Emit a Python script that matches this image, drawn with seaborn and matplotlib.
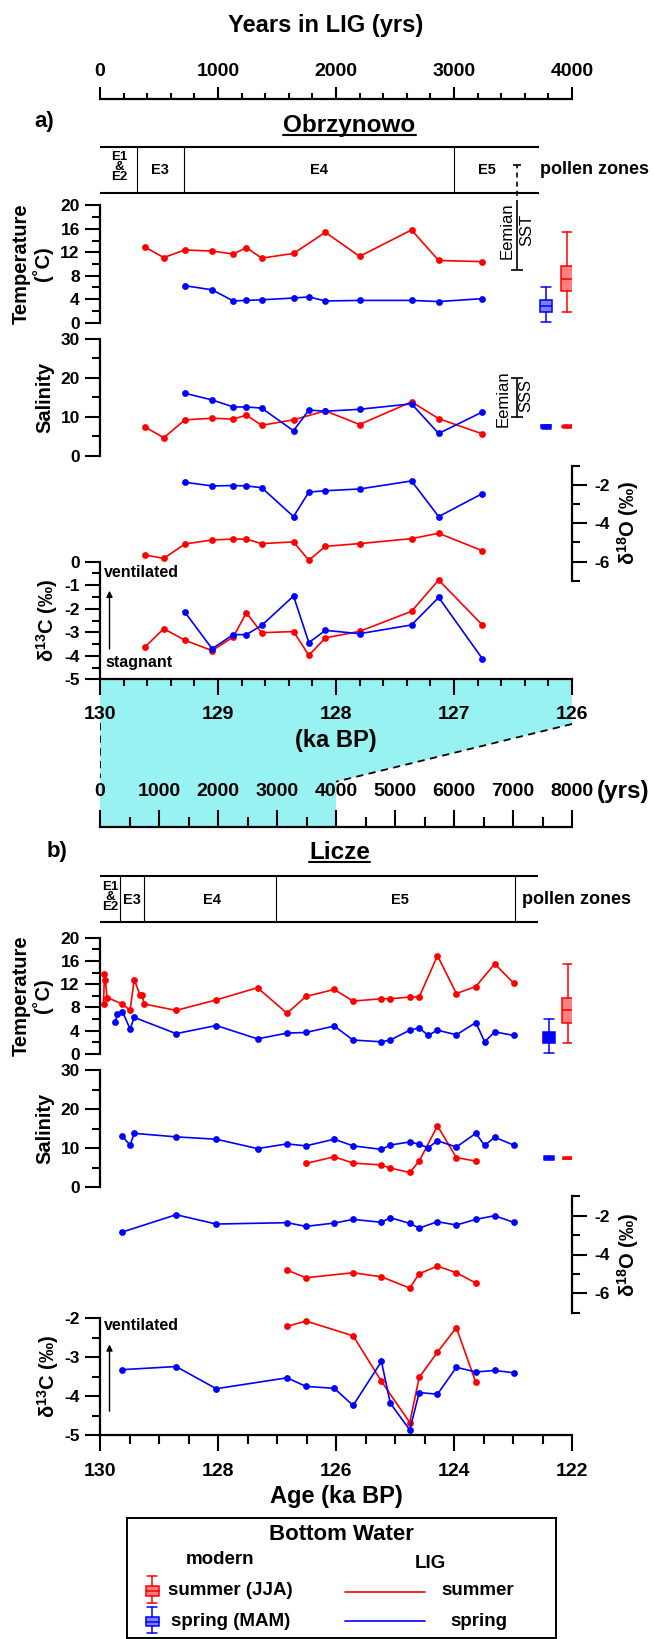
import matplotlib
matplotlib.use("Agg")
import matplotlib.pyplot as plt
import seaborn as sns
from matplotlib.ticker import MultipleLocator, FormatStrFormatter
from matplotlib.patches import Polygon, Rectangle, FancyArrowPatch
from matplotlib.lines import Line2D

# ---------------------------------------------------------------- data
# Panel a) Obrzynowo  (age in ka BP)
a_age_sum = [129.62, 129.46, 129.28, 129.05, 128.87, 128.76, 128.63, 128.36, 128.09, 127.80, 127.36, 127.13, 126.76]
a_age_spr = [129.28, 129.05, 128.87, 128.76, 128.63, 128.36, 128.23, 128.09, 127.80, 127.36, 127.13, 126.76]
a_age_iso_sum = [129.62, 129.46, 129.28, 129.05, 128.87, 128.76, 128.63, 128.36, 128.23, 128.09, 127.80, 127.36, 127.13, 126.76]

a_temp_sum = [12.9, 11.1, 12.4, 12.2, 11.7, 12.8, 11.0, 11.8, 15.4, 11.3, 15.8, 10.6, 10.4]
a_temp_spr = [6.3, 5.6, 3.7, 3.8, 3.9, 4.2, 4.4, 3.7, 3.8, 3.8, 3.6, 4.1]
a_sal_sum = [7.4, 4.6, 9.2, 9.6, 9.4, 10.4, 7.8, 9.2, 11.5, 8.0, 13.8, 9.5, 5.6]
a_sal_spr = [16.0, 14.3, 12.5, 12.5, 12.2, 6.4, 11.7, 11.4, 11.9, 13.3, 5.7, 11.2]
a_d18o_sum = [-5.65, -5.83, -5.08, -4.87, -4.82, -4.83, -5.06, -4.97, -5.93, -5.20, -5.06, -4.80, -4.52, -5.43]
a_d18o_spr = [-1.86, -2.05, -2.03, -2.05, -2.14, -3.65, -2.37, -2.30, -2.21, -1.79, -3.65, -2.45]
a_d13c_sum = [-3.63, -2.85, -3.34, -3.78, -3.20, -2.17, -3.02, -2.97, -3.98, -3.24, -2.96, -2.11, -0.78, -2.69]
a_d13c_spr = [-2.15, -3.70, -3.10, -3.10, -2.71, -1.46, -3.44, -2.92, -3.06, -2.69, -1.52, -4.12]

# Panel b) Licze  (age in ka BP)
b_age_temp_sum = [129.94, 129.925, 129.91, 129.88, 129.62, 129.49, 129.42, 129.32, 129.29, 129.25, 128.71, 128.03,
                  127.33, 126.83, 126.51, 126.03, 125.71, 125.23, 125.08, 124.75, 124.59, 124.28, 123.96, 123.63,
                  123.31, 122.99]
b_temp_sum = [8.6, 13.7, 12.8, 9.7, 8.6, 7.5, 12.8, 10.1, 10.1, 8.6, 7.5, 9.3, 11.4, 7.0, 9.9, 11.1, 9.1, 9.5, 9.5,
              9.8, 9.8, 16.9, 10.4, 11.6, 15.5, 12.2]
b_age_temp_spr = [129.74, 129.71, 129.62, 129.49, 129.42, 128.71, 128.03, 127.33, 126.83, 126.51, 126.03, 125.71,
                  125.23, 125.08, 124.75, 124.59, 124.44, 124.28, 123.96, 123.63, 123.48, 123.31, 122.99]
b_temp_spr = [5.5, 6.8, 7.3, 4.3, 6.3, 3.5, 4.9, 2.6, 3.6, 3.7, 4.8, 2.4, 2.1, 2.4, 4.1, 4.5, 3.2, 4.1, 3.3, 5.4,
              2.1, 3.8, 3.2]
b_age_sal_spr = [129.62, 129.49, 129.42, 128.71, 128.03, 127.33, 126.83, 126.51, 126.03, 125.71, 125.23, 125.08,
                 124.75, 124.59, 124.44, 124.28, 123.96, 123.63, 123.48, 123.31, 122.99]
b_sal_spr = [13.0, 10.8, 13.8, 12.9, 12.3, 9.9, 11.1, 10.6, 12.3, 10.6, 9.7, 10.8, 11.6, 11.0, 10.1, 11.9, 10.3,
             13.8, 10.7, 12.8, 10.8]
b_age_sal_sum = [126.51, 126.03, 125.71, 125.23, 125.08, 124.75, 124.59, 124.28, 123.96, 123.63]
b_sal_sum = [6.1, 7.8, 6.2, 5.7, 4.9, 3.8, 6.7, 15.7, 7.6, 6.7]
b_age_iso_spr = [129.62, 128.71, 128.03, 126.83, 126.51, 126.03, 125.71, 125.23, 125.08, 124.75, 124.59, 124.28,
                 123.96, 123.63, 123.31, 122.99]
b_d18o_spr = [-2.84, -1.95, -2.43, -2.36, -2.55, -2.38, -2.19, -2.34, -2.10, -2.40, -2.64, -2.31, -2.48, -2.19,
              -2.00, -2.34]
b_d13c_spr = [-3.32, -3.24, -3.81, -3.53, -3.75, -3.80, -4.24, -3.11, -4.18, -4.87, -3.91, -3.95, -3.26, -3.38,
              -3.34, -3.40]
b_age_iso_sum = [126.83, 126.51, 125.71, 125.23, 124.75, 124.59, 124.28, 123.96, 123.63]
b_d18o_sum = [-4.80, -5.20, -4.94, -5.15, -5.73, -4.99, -4.60, -4.94, -5.47]
b_d13c_sum = [-2.21, -2.07, -2.45, -3.62, -4.68, -3.52, -2.87, -2.24, -3.65]

# pollen zones
a_zone_bounds = [129.69, 129.29, 127.00]
a_zone_end = 126.28
a_zone_labels = ["E1\n&\nE2", "E3", "E4", "E5"]
a_zone_label_x = [129.84, 129.49, 128.14, 126.72]
b_zone_bounds = [129.66, 129.25, 127.01, 122.97]
b_zone_end = 122.58
b_zone_labels = ["E1\n&\nE2", "E3", "E4", "E5"]
b_zone_label_x = [129.82, 129.46, 128.10, 124.92]

# Eemian ranges (panel a)
eemian_x = 126.47
eemian_sst = [9.0, 20.0]
eemian_sst_dashed_top = 26.9
eemian_sss = [10.0, 20.0]

# modern bottom-water box statistics
mod_temp_sum = dict(whislo=1.9, q1=5.4, med=7.5, q3=9.6, whishi=15.4)
mod_temp_spr = dict(whislo=0.2, q1=1.9, med=2.9, q3=3.8, whishi=6.0)
mod_sal_sum = dict(whislo=7.15, q1=7.3, med=7.45, q3=7.6, whishi=7.75)
mod_sal_spr = dict(whislo=6.9, q1=7.15, med=7.45, q3=7.75, whishi=8.0)
a_box_x = [126.22, 126.04]   # spring, summer
b_box_x = [122.39, 122.07]

RED, BLUE = "#FF0000", "#0000FF"
TEAL = "#99F2F2"

# ---------------------------------------------------------------- style
sns.set_theme(style="ticks")
plt.rcParams.update({
    "font.family": ["Liberation Sans", "DejaVu Sans"],
    "font.weight": "bold",
    "text.color": "black", "axes.labelcolor": "black",
    "xtick.color": "black", "ytick.color": "black", "axes.edgecolor": "black",
    "axes.unicode_minus": False,
    "mathtext.fontset": "custom",
    "mathtext.rm": "Liberation Sans:bold",
    "mathtext.it": "Liberation Sans:italic:bold",
    "mathtext.bf": "Liberation Sans:bold",
    "mathtext.default": "rm",
    "axes.labelweight": "bold",
})

W, H = 654, 1639
fig = plt.figure(figsize=(W / 100, H / 100), dpi=100)

TICK = 12.5     # panel tick label size
ALAB = 14.5     # panel axis label size


def base_ax(x0, y0, x1, y1):
    ax = fig.add_axes([x0 / W, 1 - y1 / H, (x1 - x0) / W, (y1 - y0) / H])
    ax.set_facecolor("none")
    for s in ax.spines.values():
        s.set_visible(False)
        s.set_linewidth(1.6)
        s.set_color("black")
    ax.tick_params(which="both", bottom=False, top=False, left=False, right=False,
                   labelbottom=False, labeltop=False, labelleft=False, labelright=False)
    ax.grid(False)
    return ax


def y_axis(ax, lo, hi, major, minor, side="left"):
    ax.set_ylim(lo, hi)
    ax.spines[side].set_visible(True)
    ax.yaxis.set_major_locator(MultipleLocator(major))
    ax.yaxis.set_minor_locator(MultipleLocator(minor))
    ax.yaxis.set_major_formatter(FormatStrFormatter("%d"))
    if side == "left":
        ax.tick_params(axis="y", which="both", left=True, labelleft=True, direction="out", width=1.5)
    else:
        ax.yaxis.set_ticks_position("right")
        ax.tick_params(axis="y", which="both", right=True, labelright=True, left=False,
                       labelleft=False, direction="out", width=1.5)
    ax.tick_params(axis="y", which="major", length=11, labelsize=TICK, pad=3.5)
    ax.tick_params(axis="y", which="minor", length=5.5)


def series(ax, x, y, color):
    sns.lineplot(x=x, y=y, ax=ax, color=color, marker="o", markersize=4.9, markeredgewidth=0,
                 linewidth=1.2, sort=False, estimator=None, legend=False)


def boxes(ax, stats, xs, width, faces, edges):
    for st, x, fc, ec in zip(stats, xs, faces, edges):
        s = dict(st)
        s["fliers"] = []
        ax.bxp([s], positions=[x], widths=width, patch_artist=True, showfliers=False,
               manage_ticks=False, capwidths=width * 0.85,
               boxprops=dict(facecolor=fc, edgecolor=ec, linewidth=1.1),
               whiskerprops=dict(color=ec, linewidth=1.1),
               capprops=dict(color=ec, linewidth=1.1),
               medianprops=dict(color=ec, linewidth=1.1))


def T(x, y, s, **kw):
    return fig.text(x / W, 1 - y / H, s, **kw)


def pollen(ax, xlim, bounds, end, labels, label_x, ly):
    ax.set_xlim(*xlim)
    ax.set_ylim(0, 1)
    ax.hlines([0, 1], xlim[0], end, color="black", lw=1.5, clip_on=False)
    ax.vlines(bounds, 0, 1, color="black", lw=0.8)
    for lab, x in zip(labels, label_x):
        if "&" in lab:
            ax.text(x, ly + 0.07, lab, ha="center", va="center", fontsize=9.5, linespacing=0.8)
        else:
            ax.text(x, ly, lab, ha="center", va="center", fontsize=10.5)


def arrow(x, y0, y1):
    fig.add_artist(FancyArrowPatch((x / W, 1 - y0 / H), (x / W, 1 - y1 / H), transform=fig.transFigure,
                                   arrowstyle="-|>", mutation_scale=9, lw=1.0, color="black"))


XA = (130, 126)
XB = (130, 122)

# ---------------------------------------------------------------- connector (teal)
ax_conn = base_ax(100, 679.3, 572, 826.7)
ax_conn.set_xlim(0, 8000)
ax_conn.set_ylim(147.4, 0)
ax_conn.add_patch(Polygon([(0, 0), (8000, 0), (8000, 44.7), (4000, 102.4), (4000, 147.4), (0, 147.4)],
                          closed=True, facecolor=TEAL, edgecolor="none"))
ax_conn.plot([0, 0], [43.7, 98.7], color="black", lw=1.3, ls=(0, (4, 3)))
ax_conn.plot([8000, 4000], [44.7, 102.4], color="black", lw=1.3, ls=(0, (4, 3)))

# ---------------------------------------------------------------- panel a
ax_yt = base_ax(100, 99.3, 572, 100.3)
ax_yt.set_xlim(0, 4000)
ax_yt.spines["top"].set_visible(True)
ax_yt.xaxis.set_ticks_position("top")
ax_yt.xaxis.set_major_locator(MultipleLocator(1000))
ax_yt.xaxis.set_minor_locator(MultipleLocator(200))
ax_yt.tick_params(axis="x", which="both", top=True, labeltop=True, bottom=False, labelbottom=False,
                  direction="out", width=1.5)
ax_yt.tick_params(axis="x", which="major", length=8.7, labelsize=14, pad=5.5)
ax_yt.tick_params(axis="x", which="minor", length=4.3)
T(326, 31.7, "Years in LIG (yrs)", ha="center", va="baseline", fontsize=17)

T(44.5, 121.7, "a)", ha="center", va="center", fontsize=16)
t_obr = T(349.4, 131.7, "Obrzynowo", ha="center", va="baseline", fontsize=17.5)

ax_pa = base_ax(100, 147, 572, 193)
pollen(ax_pa, XA, a_zone_bounds, a_zone_end, a_zone_labels, a_zone_label_x, 0.5)
T(540, 170, "pollen zones", ha="left", va="center", fontsize=13)

# temperature a
ax_ta = base_ax(100, 205.3, 572, 322.7)
y_axis(ax_ta, 0, 20, 4, 2)
series(ax_ta, a_age_sum, a_temp_sum, RED)
series(ax_ta, a_age_spr, a_temp_spr, BLUE)
boxes(ax_ta, [mod_temp_spr, mod_temp_sum], a_box_x, 0.1, ["#8080FF", "#FF8080"], [BLUE, RED])
ax_ta.vlines(eemian_x, eemian_sst[0], eemian_sst[1], color="black", lw=1.2)
ax_ta.plot([eemian_x], [eemian_sst[0]], marker="_", color="black", markersize=9, mew=1.2)
ax_ta.vlines(eemian_x, eemian_sst[1], eemian_sst_dashed_top, color="black", lw=1.2,
             linestyles=(0, (3, 2.5)), clip_on=False)
ax_ta.plot([eemian_x], [eemian_sst_dashed_top], marker="_", color="black", markersize=6, mew=1.2,
           clip_on=False)
ax_ta.set_xlim(*XA); ax_ta.set_ylim(0, 20)
T(506.7, 231, "Eemian", rotation=90, ha="center", va="center", fontsize=12, fontweight="normal")
T(526.5, 230, "SST", rotation=90, ha="center", va="center", fontsize=12, fontweight="normal")
T(32.5, 264, "Temperature\n(˚C)", rotation=90, ha="center", va="center", fontsize=ALAB,
  linespacing=1.05, multialignment="center")

# salinity a
ax_sa = base_ax(100, 338.7, 572, 455.7)
y_axis(ax_sa, 0, 30, 10, 5)
series(ax_sa, a_age_sum, a_sal_sum, RED)
series(ax_sa, a_age_spr, a_sal_spr, BLUE)
boxes(ax_sa, [mod_sal_spr, mod_sal_sum], a_box_x, 0.09, [BLUE, RED], [BLUE, RED])
ax_sa.vlines(eemian_x, eemian_sss[0], eemian_sss[1], color="black", lw=1.2)
ax_sa.plot([eemian_x] * 2, eemian_sss, ls="none", marker="_", color="black", markersize=9, mew=1.2)
ax_sa.set_xlim(*XA); ax_sa.set_ylim(0, 30)
T(502.7, 399, "Eemian", rotation=90, ha="center", va="center", fontsize=12, fontweight="normal")
T(526, 395.5, "SSS", rotation=90, ha="center", va="center", fontsize=12, fontweight="normal")
T(45, 397, "Salinity", rotation=90, ha="center", va="center", fontsize=ALAB)

# d18O a (right axis)
ax_oa = base_ax(100, 465.8, 572, 580.8)
y_axis(ax_oa, -7, -1, 2, 1, side="right")
ax_oa.tick_params(axis="y", which="major", pad=5)
series(ax_oa, a_age_iso_sum, a_d18o_sum, RED)
series(ax_oa, a_age_spr, a_d18o_spr, BLUE)
ax_oa.set_xlim(*XA); ax_oa.set_ylim(-7, -1)
T(628, 523, "δ$^{18}$O (‰)", rotation=90, ha="center", va="center", fontsize=ALAB)

# d13C a
ax_ca = base_ax(100, 561.7, 572, 679.3)
y_axis(ax_ca, -5, 0, 1, 0.5)
series(ax_ca, a_age_iso_sum, a_d13c_sum, RED)
series(ax_ca, a_age_spr, a_d13c_spr, BLUE)
ax_ca.set_xlim(*XA); ax_ca.set_ylim(-5, 0)
ax_ca.spines["bottom"].set_visible(True)
ax_ca.xaxis.set_major_locator(MultipleLocator(1))
ax_ca.xaxis.set_minor_locator(MultipleLocator(0.2))
ax_ca.xaxis.set_major_formatter(FormatStrFormatter("%d"))
ax_ca.tick_params(axis="x", which="both", bottom=True, labelbottom=True, direction="out", width=1.5)
ax_ca.tick_params(axis="x", which="major", length=11.3, labelsize=14, pad=8)
ax_ca.tick_params(axis="x", which="minor", length=5.3)
ax_ca.set_ylabel("")
ax_ca.set_xlabel("(ka BP)", fontsize=17, labelpad=4, visible=True)
T(47, 620.5, "δ$^{13}$C (‰)", rotation=90, ha="center", va="center", fontsize=ALAB)
T(104, 572.7, "ventilated", ha="left", va="center", fontsize=11.5)
T(105.5, 662, "stagnant", ha="left", va="center", fontsize=11.5)
arrow(109.5, 651.7, 588)

# bottom years axis
ax_yb = base_ax(100, 826.7, 572, 827.7)
ax_yb.set_xlim(0, 8000)
ax_yb.spines["top"].set_visible(True)
ax_yb.xaxis.set_ticks_position("top")
ax_yb.xaxis.set_major_locator(MultipleLocator(1000))
ax_yb.xaxis.set_minor_locator(MultipleLocator(500))
ax_yb.tick_params(axis="x", which="both", top=True, labeltop=True, bottom=False, labelbottom=False,
                  direction="out", width=1.5)
ax_yb.tick_params(axis="x", which="major", length=12.5, labelsize=14, pad=6.5)
ax_yb.tick_params(axis="x", which="minor", length=7.2)
T(597, 791.7, "(yrs)", ha="left", va="center", fontsize=17.5)

# ---------------------------------------------------------------- panel b
T(57.5, 851.7, "b)", ha="center", va="center", fontsize=16)
t_lic = T(339.4, 859.3, "Licze", ha="center", va="baseline", fontsize=17.5)

ax_pb = base_ax(100, 876, 572, 921.7)
pollen(ax_pb, XB, b_zone_bounds, b_zone_end, b_zone_labels, b_zone_label_x, 0.47)
T(522, 899, "pollen zones", ha="left", va="center", fontsize=13)

ax_tb = base_ax(100, 937.7, 572, 1054)
y_axis(ax_tb, 0, 20, 4, 2)
series(ax_tb, b_age_temp_sum, b_temp_sum, RED)
series(ax_tb, b_age_temp_spr, b_temp_spr, BLUE)
boxes(ax_tb, [mod_temp_spr, mod_temp_sum], b_box_x, 0.2, [BLUE, "#FF8080"], [BLUE, RED])
ax_tb.set_xlim(*XB); ax_tb.set_ylim(0, 20)
T(32.5, 995.9, "Temperature\n(˚C)", rotation=90, ha="center", va="center", fontsize=ALAB,
  linespacing=1.05, multialignment="center")

ax_sb = base_ax(100, 1070, 572, 1187.3)
y_axis(ax_sb, 0, 30, 10, 5)
series(ax_sb, b_age_sal_sum, b_sal_sum, RED)
series(ax_sb, b_age_sal_spr, b_sal_spr, BLUE)
boxes(ax_sb, [mod_sal_spr, mod_sal_sum], b_box_x, 0.18, [BLUE, RED], [BLUE, RED])
ax_sb.set_xlim(*XB); ax_sb.set_ylim(0, 30)
T(45, 1128.7, "Salinity", rotation=90, ha="center", va="center", fontsize=ALAB)

ax_ob = base_ax(100, 1196.3, 572, 1312.7)
y_axis(ax_ob, -7, -1, 2, 1, side="right")
ax_ob.tick_params(axis="y", which="major", pad=5)
series(ax_ob, b_age_iso_sum, b_d18o_sum, RED)
series(ax_ob, b_age_iso_spr, b_d18o_spr, BLUE)
ax_ob.set_xlim(*XB); ax_ob.set_ylim(-7, -1)
T(628, 1254.5, "δ$^{18}$O (‰)", rotation=90, ha="center", va="center", fontsize=ALAB)

ax_cb = base_ax(100, 1318.3, 572, 1435)
y_axis(ax_cb, -5, -2, 1, 0.5)
series(ax_cb, b_age_iso_sum, b_d13c_sum, RED)
series(ax_cb, b_age_iso_spr, b_d13c_spr, BLUE)
ax_cb.set_xlim(*XB); ax_cb.set_ylim(-5, -2)
ax_cb.spines["bottom"].set_visible(True)
ax_cb.xaxis.set_major_locator(MultipleLocator(2))
ax_cb.xaxis.set_minor_locator(MultipleLocator(0.5))
ax_cb.xaxis.set_major_formatter(FormatStrFormatter("%d"))
ax_cb.tick_params(axis="x", which="both", bottom=True, labelbottom=True, direction="out", width=1.5)
ax_cb.tick_params(axis="x", which="major", length=11.5, labelsize=14, pad=8.5)
ax_cb.tick_params(axis="x", which="minor", length=6.5)
ax_cb.set_ylabel("")
ax_cb.set_xlabel("Age (ka BP)", fontsize=17, labelpad=4, visible=True)
T(48, 1376.7, "δ$^{13}$C (‰)", rotation=90, ha="center", va="center", fontsize=ALAB)
T(104, 1325, "ventilated", ha="left", va="center", fontsize=11.5)
arrow(109.5, 1414, 1341.7)

# hide any seaborn default y labels
for a in [ax_ta, ax_sa, ax_oa, ax_tb, ax_sb, ax_ob]:
    a.set_xlabel(""); a.set_ylabel("")

# ---------------------------------------------------------------- legend
ax_leg = fig.add_axes([127.3 / W, 1 - 1637.5 / H, (555.6 - 127.3) / W, (1637.5 - 1518.3) / H])
ax_leg.set_xlim(127.3, 555.6)
ax_leg.set_ylim(1637.5, 1518.3)
ax_leg.set_xticks([]); ax_leg.set_yticks([])
ax_leg.set_facecolor("white")
for s in ax_leg.spines.values():
    s.set_visible(True); s.set_linewidth(1.4); s.set_color("black")
ax_leg.text(341.6, 1534, "Bottom Water", ha="center", va="center", fontsize=16)
ax_leg.text(220, 1560, "modern", ha="center", va="center", fontsize=13.5)
ax_leg.text(430, 1563, "LIG", ha="center", va="center", fontsize=13.5)


def icon(x, top, bot, b0, b1, med, ec, fc):
    ax_leg.plot([x, x], [top, b0], color=ec, lw=1.1)
    ax_leg.plot([x, x], [b1, bot], color=ec, lw=1.1)
    ax_leg.plot([x - 5, x + 5], [top, top], color=ec, lw=1.1)
    ax_leg.plot([x - 5, x + 5], [bot, bot], color=ec, lw=1.1)
    ax_leg.add_patch(Rectangle((x - 6.3, b0), 12.6, b1 - b0, facecolor=fc, edgecolor=ec, lw=1.1))
    ax_leg.plot([x - 6.3, x + 6.3], [med, med], color=ec, lw=1.1)


icon(152.3, 1575.7, 1602.7, 1585.7, 1595.7, 1590.7, RED, "#FF8080")
icon(152.3, 1607.3, 1633.3, 1617.3, 1626.0, 1621.7, BLUE, "#8080FF")
ax_leg.text(168.3, 1590.7, "summer (JJA)", ha="left", va="center", fontsize=13.5)
ax_leg.text(170.7, 1621.7, "spring (MAM)", ha="left", va="center", fontsize=13.5)
ax_leg.plot([345, 425.4], [1591.7, 1591.7], color=RED, lw=1.2)
ax_leg.plot([345, 425.4], [1620.7, 1620.7], color=BLUE, lw=1.2)
ax_leg.text(477.8, 1590.7, "summer", ha="center", va="center", fontsize=13.5)
ax_leg.text(478.5, 1621.7, "spring", ha="center", va="center", fontsize=13.5)

# underline site names
fig.canvas.draw()
r = fig.canvas.get_renderer()
for t, y in [(t_obr, 135.0), (t_lic, 862.0)]:
    bb = t.get_window_extent(r)
    fig.add_artist(Line2D([bb.x0 / W, bb.x1 / W], [1 - y / H, 1 - y / H], transform=fig.transFigure,
                          color="black", lw=1.5))

fig.savefig("out.png", dpi=100)
